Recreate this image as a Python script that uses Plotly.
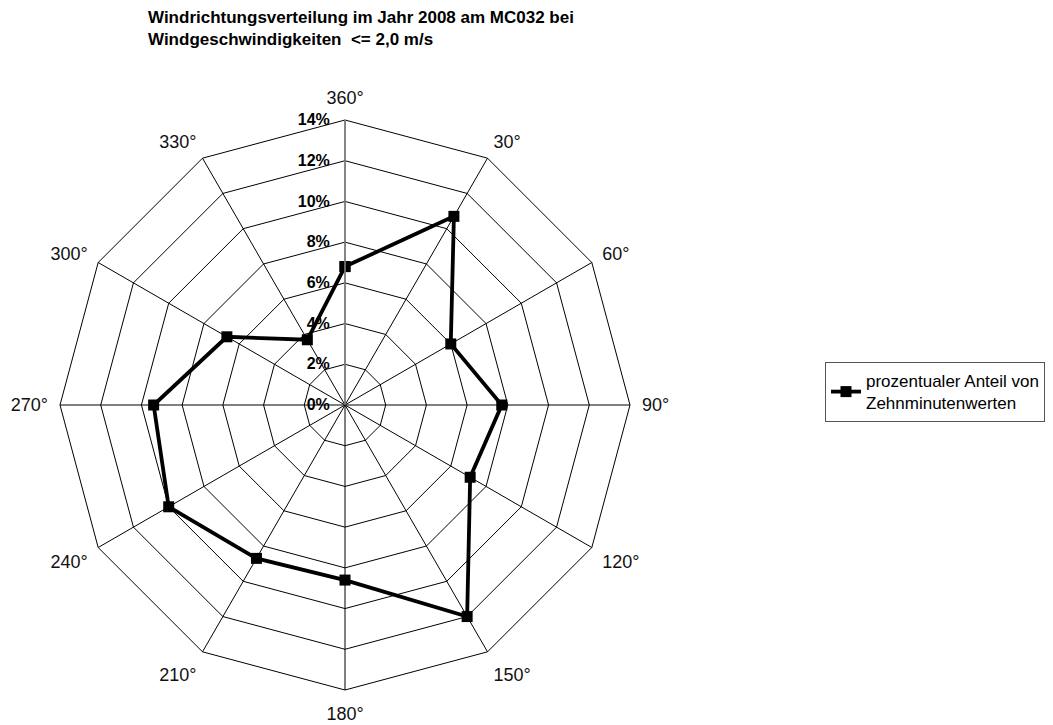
import plotly.graph_objects as go

directions = ["360°", "30°", "60°", "90°", "120°", "150°", "180°", "210°", "240°", "270°", "300°", "330°"]
anteil = [6.8, 10.7, 6.0, 7.7, 7.1, 12.0, 8.6, 8.7, 10.0, 9.4, 6.7, 3.7]
radial_ticks = [0, 2, 4, 6, 8, 10, 12, 14]
radial_labels = ["0%", "2%", "4%", "6%", "8%", "10%", "12%", "14%"]

title_text = ("Windrichtungsverteilung im Jahr 2008 am MC032 bei<br>"
              "Windgeschwindigkeiten  <= 2,0 m/s")
series_name = "prozentualer Anteil von<br>Zehnminutenwerten"

theta = directions + [directions[0]]
r = anteil + [anteil[0]]

W, H = 1053, 725
OFF = 8  # browser body margin

fig = go.Figure()
fig.add_trace(go.Scatterpolar(
    r=r, theta=theta, mode="lines+markers", name=series_name,
    line=dict(color="black", width=3.8),
    marker=dict(symbol="square", size=11, color="black"),
    showlegend=True,
))

cx, cy, R = 345 - OFF, 405 - OFF, 285
fig.update_layout(
    width=W, height=H,
    paper_bgcolor="white", plot_bgcolor="white",
    margin=dict(l=0, r=0, t=0, b=0),
    font=dict(family="Liberation Sans, Arial, sans-serif", color="black"),
    title=dict(text=title_text, x=(148 - OFF)/W, xanchor="left", y=1-15/H, yanchor="top",
               font=dict(size=17, weight="bold", family="Liberation Sans, Arial")),
    polar=dict(
        domain=dict(x=[(cx - R)/W, (cx + R)/W], y=[(H - cy - R)/H, (H - cy + R)/H]),
        gridshape="linear",
        bgcolor="white",
        angularaxis=dict(
            type="category", direction="clockwise", rotation=90,
            categoryorder="array", categoryarray=directions,
            showline=True, linecolor="black", linewidth=1,
            showgrid=True, gridcolor="black", gridwidth=1,
            ticks="outside", ticklen=8, tickcolor="rgba(0,0,0,0)",
            tickfont=dict(size=18, color="#111"),
        ),
        radialaxis=dict(
            range=[0, 14], tickmode="array", tickvals=radial_ticks,
            ticktext=[t + "\u00a0\u00a0" for t in radial_labels],
            angle=90, tickangle=90, side="counterclockwise",
            showline=True, linecolor="#888", linewidth=1.5,
            showgrid=True, gridcolor="black", gridwidth=1,
            ticks="", tickfont=dict(size=16, weight="bold", color="black"),
        ),
    ),
    legend=dict(
        x=(825 - OFF)/W, y=1-(362 - OFF)/H, xanchor="left", yanchor="top",
        bordercolor="#555", borderwidth=1, bgcolor="white",
        font=dict(size=17, family="Liberation Sans, Arial"),
    ),
)

fig.write_html("out.html")
